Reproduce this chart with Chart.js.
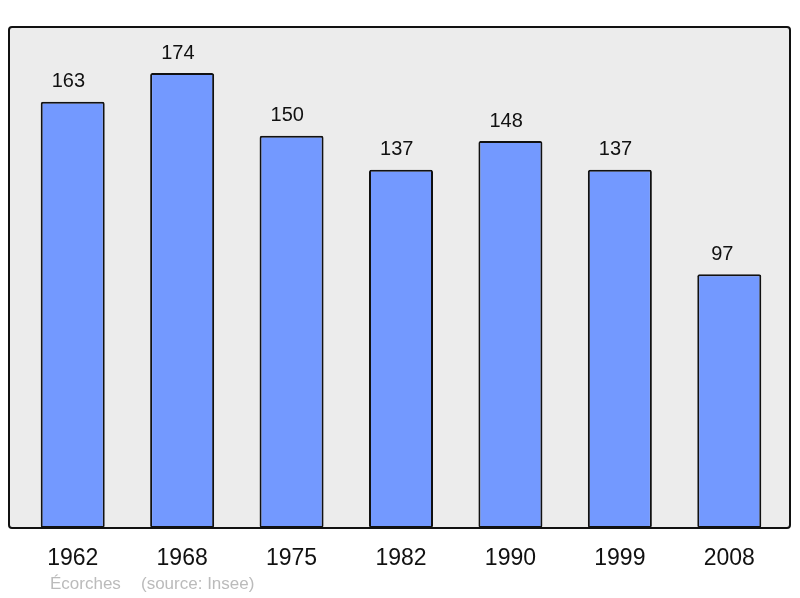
<!DOCTYPE html>
<html><head><meta charset="utf-8">
<script src="https://cdn.jsdelivr.net/npm/chart.js@4/dist/chart.umd.min.js"></script>
<style>html,body{margin:0;padding:0;background:#fff}#wrap{position:relative;width:800px;height:598px}</style>
</head><body><div id="wrap"><canvas id="c" width="800" height="598"></canvas></div>
<script>
const years = ["1962","1968","1975","1982","1990","1999","2008"];
const population = [163,174,150,137,148,137,97];
const sourceName = "Écorches";
const sourceRef = "(source: Insee)";

function framePath(ctx){
  const x0=9,y0=27,x1=790,y1=528,r=3;
  ctx.beginPath();
  ctx.moveTo(x0+r,y0);ctx.lineTo(x1-r,y0);ctx.quadraticCurveTo(x1,y0,x1,y0+r);
  ctx.lineTo(x1,y1-r);ctx.quadraticCurveTo(x1,y1,x1-r,y1);
  ctx.lineTo(x0+r,y1);ctx.quadraticCurveTo(x0,y1,x0,y1-r);
  ctx.lineTo(x0,y0+r);ctx.quadraticCurveTo(x0,y0,x0+r,y0);ctx.closePath();
}
const framePlugin = {
  id:'frame',
  beforeDatasetsDraw(chart){
    const ctx=chart.ctx;
    ctx.save();framePath(ctx);ctx.fillStyle='#ececec';ctx.fill();ctx.restore();
  },
  afterDatasetsDraw(chart){
    const ctx=chart.ctx;
    ctx.save();
    framePath(ctx);ctx.lineWidth=2;ctx.strokeStyle='#111';ctx.stroke();
    const meta=chart.getDatasetMeta(0);
    ctx.font='20px "Liberation Sans", Arial, sans-serif';
    ctx.fillStyle='#111';ctx.textAlign='center';ctx.textBaseline='alphabetic';
    meta.data.forEach((bar,i)=>{
      const s=String(population[i]);
      const dx = s.length===2 ? -7 : -4.3;
      ctx.fillText(s, bar.x+dx, bar.y-14.5);
    });
    ctx.font='17px "Liberation Sans", Arial, sans-serif';
    ctx.fillStyle='#bbbbbb';ctx.textAlign='left';
    ctx.fillText(sourceName, 50, 589);
    ctx.fillText(sourceRef, 141, 589);
    ctx.restore();
  }
};

new Chart(document.getElementById('c'),{
  type:'bar',
  data:{labels:years,datasets:[{data:population,backgroundColor:'#7399ff',borderColor:'#111',borderWidth:2,borderSkipped:false,borderRadius:2,barPercentage:0.585,categoryPercentage:1}]},
  options:{
    responsive:false,animation:false,
    layout:{padding:{left:18,right:16,top:27,bottom:0}},
    plugins:{legend:{display:false},tooltip:{enabled:false}},
    scales:{
      y:{display:false,min:0,max:191.6},
      x:{grid:{display:false},border:{display:false},
         ticks:{color:'#111',font:{family:'"Liberation Sans", Arial, sans-serif',size:23},padding:9,maxRotation:0},
         afterFit(s){s.height=70;}}
    }
  },
  plugins:[framePlugin]
});
</script></body></html>
